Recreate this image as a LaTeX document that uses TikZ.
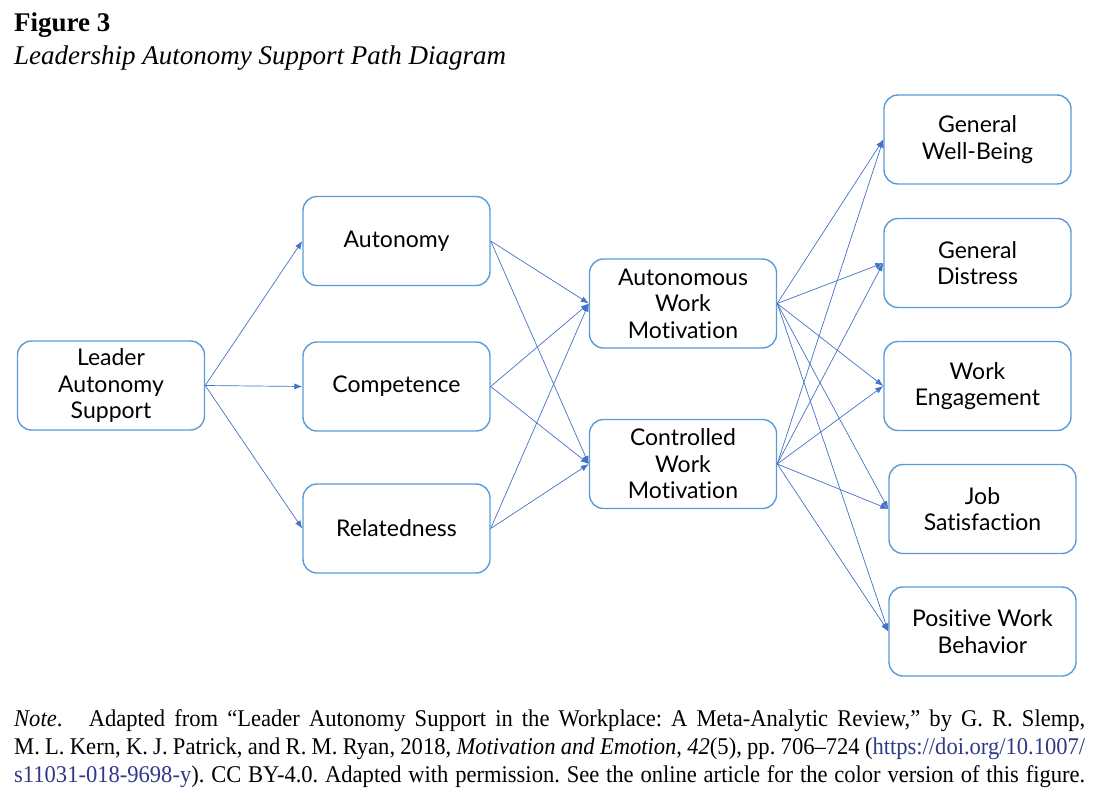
\documentclass[tikz,border=0pt]{standalone}
\usepackage{fontspec}
\setmainfont{Liberation Serif}
\newfontfamily\boxfont[Ligatures=NoCommon]{Lato}
\newfontfamily\notefont[FakeStretch=0.94]{Liberation Serif}
\usetikzlibrary{arrows.meta}
\definecolor{boxblue}{HTML}{5B9BD5}
\definecolor{edgeblue}{HTML}{4472C4}
\definecolor{linkblue}{HTML}{2E3A87}

\begin{document}
\begin{tikzpicture}[x=1pt, y=-1pt]
  \tikzstyle{box}=[rectangle, rounded corners=14pt, draw=boxblue, line width=1.4pt, minimum width=187pt, minimum height=89pt, align=center, font=\boxfont\fontsize{23}{26.5}\selectfont]
  \tikzstyle{edge}=[-{Latex[length=8pt, width=6pt]}, color=edgeblue, line width=0.7pt]

  \useasboundingbox (0,0) rectangle (1102,808);

  \node[anchor=base west, inner sep=0pt, font=\bfseries\fontsize{27}{32}\selectfont] (fig)   at (14, 32) {Figure 3};
  \node[anchor=base west, inner sep=0pt, font=\itshape\fontsize{27}{32}\selectfont] (title) at (14, 64) {Leadership Autonomy Support Path Diagram};

  \node[box] (las) at (111,   385.5) {Leader\\Autonomy\\Support};
  \node[box] (aut) at (396.5, 241)   {Autonomy};
  \node[box] (com) at (396.5, 386.5) {Competence};
  \node[box] (rel) at (396.5, 528.5) {Relatedness};
  \node[box] (awm) at (683,   303.5) {Autonomous\\Work\\Motivation};
  \node[box] (cwm) at (683,   464)   {Controlled\\Work\\Motivation};
  \node[box] (gwb) at (977.5, 139.5) {General\\Well-Being};
  \node[box] (gds) at (977.5, 263)   {General\\Distress};
  \node[box] (weg) at (977.5, 386)   {Work\\Engagement};
  \node[box] (jsa) at (982.5, 509)   {Job\\Satisfaction};
  \node[box] (pwb) at (982.5, 631.5) {Positive Work\\Behavior};

  \path[edge] (las.east) edge (aut.west);
  \path[edge] (las.east) edge (com.west);
  \path[edge] (las.east) edge (rel.west);

  \path[edge] (aut.east) edge (awm.west);
  \path[edge] (aut.east) edge (cwm.west);
  \path[edge] (com.east) edge (awm.west);
  \path[edge] (com.east) edge (cwm.west);
  \path[edge] (rel.east) edge (awm.west);
  \path[edge] (rel.east) edge (cwm.west);

  \path[edge] (awm.east) edge (gwb.west);
  \path[edge] (awm.east) edge (gds.west);
  \path[edge] (awm.east) edge (weg.west);
  \path[edge] (awm.east) edge (jsa.west);
  \path[edge] (awm.east) edge (pwb.west);
  \path[edge] (cwm.east) edge (gwb.west);
  \path[edge] (cwm.east) edge (gds.west);
  \path[edge] (cwm.east) edge (weg.west);
  \path[edge] (cwm.east) edge (jsa.west);
  \path[edge] (cwm.east) edge (pwb.west);

  \node[anchor=north west, inner sep=0pt] (note) at (14, 709) {\parbox{1071pt}{\notefont\fontsize{24}{28.3}\selectfont
    \frenchspacing \parfillskip=0pt \tolerance=9999 \hyphenpenalty=10000
    \textit{Note}.\hspace{1.1em}Adapted from “Leader Autonomy Support in the Workplace: A Meta-Analytic Review,” by G. R. Slemp,\linebreak
    M. L. Kern, K. J. Patrick, and R. M. Ryan, 2018, \textit{Motivation and Emotion}, \textit{42}(5), pp. 706–724 (\textcolor{linkblue}{https://doi.org/10.1007/}\linebreak
    \textcolor{linkblue}{s11031-018-9698-y}). CC BY-4.0. Adapted with permission. See the online article for the color version of this figure.\par}};
\end{tikzpicture}
\end{document}
